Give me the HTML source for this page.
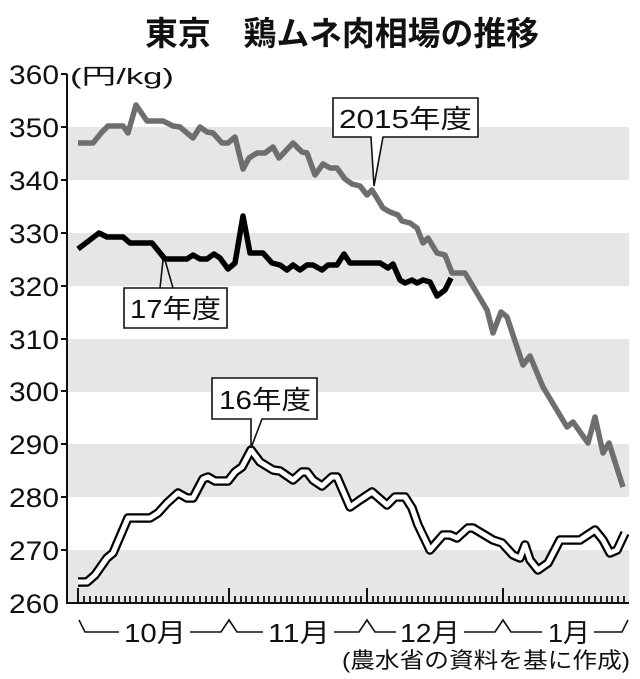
<!DOCTYPE html>
<html><head><meta charset="utf-8"><style>
html,body{margin:0;padding:0;background:#fff;}
svg{display:block;}
text{font-family:"Liberation Sans","Noto Sans CJK JP",sans-serif;fill:#111;}
</style></head><body>
<svg width="640" height="679" viewBox="0 0 640 679" xmlns="http://www.w3.org/2000/svg">
<text x="145" y="45" font-size="33" font-weight="bold" textLength="394" lengthAdjust="spacingAndGlyphs">東京　鶏ムネ肉相場の推移</text>
<g fill="#e6e6e6">
<rect x="67" y="127" width="562" height="53"/>
<rect x="67" y="233" width="562" height="53"/>
<rect x="67" y="339" width="562" height="53"/>
<rect x="67" y="444" width="562" height="53"/>
<rect x="67" y="550" width="562" height="53"/>
</g>
<g stroke="#111" stroke-width="2">
<line x1="67" y1="74" x2="67" y2="604"/>
<line x1="66" y1="603" x2="629" y2="603"/>
<line x1="61" y1="74" x2="67" y2="74"/><line x1="61" y1="127" x2="67" y2="127"/><line x1="61" y1="180" x2="67" y2="180"/><line x1="61" y1="233" x2="67" y2="233"/><line x1="61" y1="286" x2="67" y2="286"/><line x1="61" y1="339" x2="67" y2="339"/><line x1="61" y1="391" x2="67" y2="391"/><line x1="61" y1="444" x2="67" y2="444"/><line x1="61" y1="497" x2="67" y2="497"/><line x1="61" y1="550" x2="67" y2="550"/>
</g>
<g font-size="27" text-anchor="end">
<text x="59" y="84" textLength="50" lengthAdjust="spacingAndGlyphs">360</text><text x="59" y="137" textLength="50" lengthAdjust="spacingAndGlyphs">350</text><text x="59" y="190" textLength="50" lengthAdjust="spacingAndGlyphs">340</text><text x="59" y="243" textLength="50" lengthAdjust="spacingAndGlyphs">330</text><text x="59" y="296" textLength="50" lengthAdjust="spacingAndGlyphs">320</text><text x="59" y="349" textLength="50" lengthAdjust="spacingAndGlyphs">310</text><text x="59" y="401" textLength="50" lengthAdjust="spacingAndGlyphs">300</text><text x="59" y="454" textLength="50" lengthAdjust="spacingAndGlyphs">290</text><text x="59" y="507" textLength="50" lengthAdjust="spacingAndGlyphs">280</text><text x="59" y="560" textLength="50" lengthAdjust="spacingAndGlyphs">270</text><text x="59" y="613" textLength="50" lengthAdjust="spacingAndGlyphs">260</text>
</g>
<text x="70" y="84" font-size="22" textLength="104" lengthAdjust="spacingAndGlyphs">(円/kg)</text>
<g stroke="#111" stroke-width="2">
<line x1="78" y1="588" x2="78" y2="603"/><line x1="229" y1="588" x2="229" y2="603"/><line x1="367" y1="588" x2="367" y2="603"/><line x1="503" y1="588" x2="503" y2="603"/>
</g>
<g stroke="#111" stroke-width="1.6" fill="none">
<path d="M79 620 L85 632 L119 632"/><path d="M190 632 L221 632 L229 620 L237 632 L263 632"/>
<path d="M334 632 L359 632 L367 620 L375 632 L396 632"/><path d="M464 632 L495 632 L503 620 L511 632 L542 632"/>
<path d="M594 632 L622 632 L628 620"/>
</g>
<g font-size="26">
<text x="124" y="642" textLength="62" lengthAdjust="spacingAndGlyphs">10月</text><text x="268" y="642" textLength="62" lengthAdjust="spacingAndGlyphs">11月</text><text x="400" y="642" textLength="60" lengthAdjust="spacingAndGlyphs">12月</text><text x="548" y="642" textLength="42" lengthAdjust="spacingAndGlyphs">1月</text>
</g>
<text x="630" y="668" font-size="22" text-anchor="end" textLength="288" lengthAdjust="spacingAndGlyphs">(農水省の資料を基に作成)</text>
<polyline fill="none" stroke="#6e6e6e" stroke-width="5.5" stroke-linejoin="round" points="78,143 93,143 102,132 108,126 123,126 128,133 136,105 147,121 163,121 173,126 180,127 193,138 200,127 207,132 213,133 222,143 228,143 235,137 243,169 249,158 257,153 265,153 273,147 279,158 293,143 302,152 307,153 315,175 323,164 330,168 337,168 345,179 352,184 360,186 367,195 372,190 383,208 390,212 398,215 402,221 410,223 417,228 423,243 428,238 437,253 445,255 452,273 465,273 487,310 493,333 501,312 507,317 523,365 530,356 543,387 567,427 573,422 588,443 595,417 603,453 609,443 623,487"/>
<polyline fill="none" stroke="#000" stroke-width="5.5" stroke-linejoin="round" points="78,249 99,233 107,237 123,237 130,243 152,243 165,259 187,259 193,255 200,259 207,259 214,254 220,258 228,269 235,263 243,216 250,253 263,253 272,263 280,265 287,270 293,265 300,270 307,265 313,265 322,270 328,265 337,265 344,254 350,263 380,263 388,268 393,264 400,280 405,283 412,280 417,283 423,280 430,282 437,296 445,290 451,278"/>
<g fill="none" stroke-linejoin="round">
<polyline stroke="#000" stroke-width="9.5" points="78,582 87,582 95,575 107,558 113,553 128,518 150,518 158,513 167,503 178,493 187,498 193,498 203,479 208,477 215,481 228,481 235,472 242,467 251,450 260,462 273,470 280,471 293,480 302,472 307,472 313,480 322,486 332,477 337,477 350,507 360,500 372,492 387,505 395,497 405,497 412,508 418,525 430,550 443,535 450,535 457,538 468,528 473,528 493,540 502,543 513,555 520,558 525,545 530,560 538,570 548,563 560,540 580,540 595,530 603,540 610,553 617,550 625,533"/>
<polyline stroke="#fff" stroke-width="5" points="78,582 87,582 95,575 107,558 113,553 128,518 150,518 158,513 167,503 178,493 187,498 193,498 203,479 208,477 215,481 228,481 235,472 242,467 251,450 260,462 273,470 280,471 293,480 302,472 307,472 313,480 322,486 332,477 337,477 350,507 360,500 372,492 387,505 395,497 405,497 412,508 418,525 430,550 443,535 450,535 457,538 468,528 473,528 493,540 502,543 513,555 520,558 525,545 530,560 538,570 548,563 560,540 580,540 595,530 603,540 610,553 617,550 625,533"/>
</g>
<g fill="#fff" stroke="#111" stroke-width="1.6">
<path d="M333 98 H478 V137 H383 L374 186 L371 137 H333 Z"/>
<path d="M124 288 H227 V328 H124 Z"/>
<path d="M212 378 H317 V419 H262 L251 448 L251 419 H212 Z"/>
</g>
<path d="M163 260 L160 288 M165 260 L173 288" stroke="#111" stroke-width="1.6" fill="none"/>
<g font-size="26">
<text x="339" y="128" textLength="133" lengthAdjust="spacingAndGlyphs">2015年度</text>
<text x="130" y="318" textLength="91" lengthAdjust="spacingAndGlyphs">17年度</text>
<text x="219" y="409" textLength="92" lengthAdjust="spacingAndGlyphs">16年度</text>
</g>
<g stroke="#111" stroke-width="1.8">
<line x1="84" y1="596" x2="84" y2="603"/><line x1="90" y1="596" x2="90" y2="603"/><line x1="96" y1="596" x2="96" y2="603"/><line x1="101" y1="596" x2="101" y2="603"/><line x1="107" y1="596" x2="107" y2="603"/><line x1="113" y1="596" x2="113" y2="603"/><line x1="119" y1="596" x2="119" y2="603"/><line x1="125" y1="596" x2="125" y2="603"/><line x1="130" y1="596" x2="130" y2="603"/><line x1="136" y1="596" x2="136" y2="603"/><line x1="142" y1="596" x2="142" y2="603"/><line x1="148" y1="596" x2="148" y2="603"/><line x1="154" y1="596" x2="154" y2="603"/><line x1="159" y1="596" x2="159" y2="603"/><line x1="165" y1="596" x2="165" y2="603"/><line x1="171" y1="596" x2="171" y2="603"/><line x1="177" y1="596" x2="177" y2="603"/><line x1="183" y1="596" x2="183" y2="603"/><line x1="188" y1="596" x2="188" y2="603"/><line x1="194" y1="596" x2="194" y2="603"/><line x1="200" y1="596" x2="200" y2="603"/><line x1="206" y1="596" x2="206" y2="603"/><line x1="212" y1="596" x2="212" y2="603"/><line x1="217" y1="596" x2="217" y2="603"/><line x1="223" y1="596" x2="223" y2="603"/>
<line x1="235" y1="596" x2="235" y2="603"/><line x1="241" y1="596" x2="241" y2="603"/><line x1="246" y1="596" x2="246" y2="603"/><line x1="252" y1="596" x2="252" y2="603"/><line x1="258" y1="596" x2="258" y2="603"/><line x1="264" y1="596" x2="264" y2="603"/><line x1="269" y1="596" x2="269" y2="603"/><line x1="275" y1="596" x2="275" y2="603"/><line x1="281" y1="596" x2="281" y2="603"/><line x1="287" y1="596" x2="287" y2="603"/><line x1="292" y1="596" x2="292" y2="603"/><line x1="298" y1="596" x2="298" y2="603"/><line x1="304" y1="596" x2="304" y2="603"/><line x1="310" y1="596" x2="310" y2="603"/><line x1="315" y1="596" x2="315" y2="603"/><line x1="321" y1="596" x2="321" y2="603"/><line x1="327" y1="596" x2="327" y2="603"/><line x1="333" y1="596" x2="333" y2="603"/><line x1="338" y1="596" x2="338" y2="603"/><line x1="344" y1="596" x2="344" y2="603"/><line x1="350" y1="596" x2="350" y2="603"/><line x1="356" y1="596" x2="356" y2="603"/><line x1="361" y1="596" x2="361" y2="603"/>
<line x1="373" y1="596" x2="373" y2="603"/><line x1="378" y1="596" x2="378" y2="603"/><line x1="384" y1="596" x2="384" y2="603"/><line x1="390" y1="596" x2="390" y2="603"/><line x1="395" y1="596" x2="395" y2="603"/><line x1="401" y1="596" x2="401" y2="603"/><line x1="407" y1="596" x2="407" y2="603"/><line x1="412" y1="596" x2="412" y2="603"/><line x1="418" y1="596" x2="418" y2="603"/><line x1="424" y1="596" x2="424" y2="603"/><line x1="429" y1="596" x2="429" y2="603"/><line x1="435" y1="596" x2="435" y2="603"/><line x1="441" y1="596" x2="441" y2="603"/><line x1="446" y1="596" x2="446" y2="603"/><line x1="452" y1="596" x2="452" y2="603"/><line x1="458" y1="596" x2="458" y2="603"/><line x1="463" y1="596" x2="463" y2="603"/><line x1="469" y1="596" x2="469" y2="603"/><line x1="475" y1="596" x2="475" y2="603"/><line x1="480" y1="596" x2="480" y2="603"/><line x1="486" y1="596" x2="486" y2="603"/><line x1="492" y1="596" x2="492" y2="603"/><line x1="497" y1="596" x2="497" y2="603"/>
<line x1="509" y1="596" x2="509" y2="603"/><line x1="515" y1="596" x2="515" y2="603"/><line x1="520" y1="596" x2="520" y2="603"/><line x1="526" y1="596" x2="526" y2="603"/><line x1="532" y1="596" x2="532" y2="603"/><line x1="538" y1="596" x2="538" y2="603"/><line x1="543" y1="596" x2="543" y2="603"/><line x1="549" y1="596" x2="549" y2="603"/><line x1="555" y1="596" x2="555" y2="603"/><line x1="561" y1="596" x2="561" y2="603"/><line x1="566" y1="596" x2="566" y2="603"/><line x1="572" y1="596" x2="572" y2="603"/><line x1="578" y1="596" x2="578" y2="603"/><line x1="584" y1="596" x2="584" y2="603"/><line x1="589" y1="596" x2="589" y2="603"/><line x1="595" y1="596" x2="595" y2="603"/><line x1="601" y1="596" x2="601" y2="603"/><line x1="607" y1="596" x2="607" y2="603"/><line x1="612" y1="596" x2="612" y2="603"/><line x1="618" y1="596" x2="618" y2="603"/><line x1="624" y1="596" x2="624" y2="603"/>
</g>
</svg>
</body></html>
